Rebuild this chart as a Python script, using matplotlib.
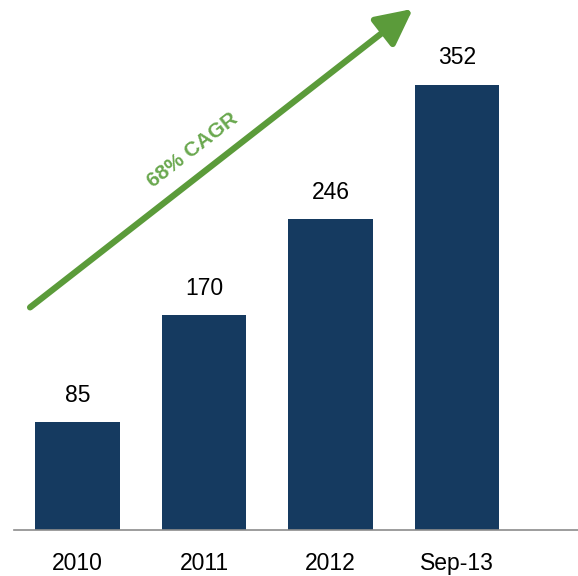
import matplotlib
matplotlib.use('Agg')
import matplotlib.pyplot as plt

plt.rcParams['font.family'] = ['Liberation Sans', 'DejaVu Sans']

periods = ['2010', '2011', '2012', 'Sep-13']
values = [85, 170, 246, 352]
growth = '68% CAGR'

bar_color = '#153a60'
green = '#5b9b3a'

fig = plt.figure(figsize=(5.78, 5.76), dpi=100)
ax = fig.add_axes([14 / 578, 46 / 576, 1 - 14 / 578, 530 / 576])

xs = range(len(periods))
bars = ax.bar(xs, values, width=0.665, color=bar_color)
for b, v in zip(bars, values):
    ax.annotate(str(v), (b.get_x() + b.get_width() / 2, v),
                xytext=(0, 11), textcoords='offset points',
                ha='center', va='bottom', fontsize=16.5, color='black')

ax.set_xlim(-0.502, 3.957)
ax.set_ylim(0, 419)
ax.set_xticks(list(xs))
ax.set_xticklabels(periods, fontsize=16.5)
ax.tick_params(axis='x', length=0, pad=16)
ax.set_yticks([])
for side in ['top', 'right', 'left']:
    ax.spines[side].set_visible(False)
ax.spines['bottom'].set_color('#8c8c8c')
ax.spines['bottom'].set_linewidth(1.2)

# growth arrow running over the bars
ax.annotate('', xy=(2.652, 412), xytext=(-0.375, 176),
            arrowprops=dict(arrowstyle='-|>,head_length=2.2,head_width=1.1',
                            color=green, lw=4.5, shrinkA=0, shrinkB=0))
ax.text(0.91, 300, growth, rotation=37.9, rotation_mode='anchor',
        ha='center', va='center', fontsize=15, fontweight='bold',
        color='#6aa84f')

fig.savefig('out.png', dpi=100)
